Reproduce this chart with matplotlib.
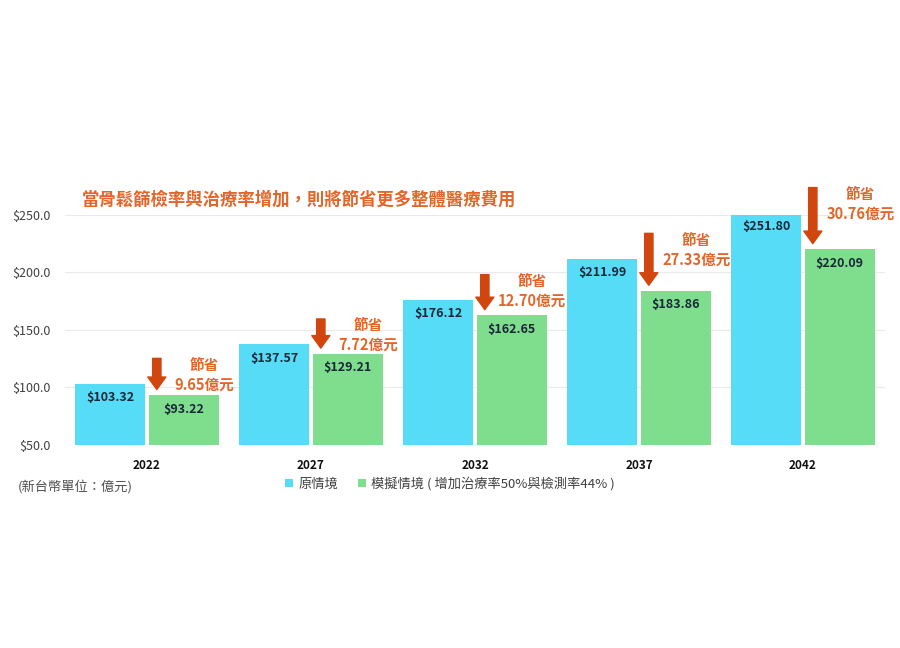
import matplotlib
matplotlib.use("Agg")
import matplotlib.pyplot as plt
import numpy as np

plt.rcParams['font.family'] = ['Noto Sans CJK TC', 'DejaVu Sans']

# data
years = ['2022', '2027', '2032', '2037', '2042']
original = [103.32, 137.57, 176.12, 211.99, 251.80]
simulated = [93.22, 129.21, 162.65, 183.86, 220.09]
savings = ['9.65', '7.72', '12.70', '27.33', '30.76']

title = '當骨鬆篩檢率與治療率增加，則將節省更多整體醫療費用'
unit_note = '(新台幣單位：億元)'
label_orig = '原情境'
label_sim = '模擬情境 ( 增加治療率50%與檢測率44% )'

BLUE = '#57DCF8'
GREEN = '#7EDE8E'
ORANGE = '#E2662A'
ARROW = '#D1460E'

fig = plt.figure(figsize=(9, 6.48), dpi=100)
ax = fig.add_axes([0.0722, 0.3133, 0.9111, 0.355])

x = np.arange(len(years))
w = 0.427
b1 = ax.bar(x - 0.224, original, w, color=BLUE, label=label_orig, zorder=2)
b2 = ax.bar(x + 0.224, simulated, w, color=GREEN, label=label_sim, zorder=2)

for i in range(len(years)):
    ax.text(x[i] - 0.224, original[i] - 12, '$%.2f' % original[i], ha='center', va='center',
            fontsize=9, fontweight='bold', color='#1B2838', zorder=3)
    ax.text(x[i] + 0.224, simulated[i] - 12, '$%.2f' % simulated[i], ha='center', va='center',
            fontsize=9, fontweight='bold', color='#1B2838', zorder=3)
    # down arrow showing the savings
    top = original[i] + 22
    ax.annotate('', xy=(x[i] + 0.06, simulated[i] + 5), xytext=(x[i] + 0.06, top),
                arrowprops=dict(facecolor=ARROW, edgecolor=ARROW, width=6, headwidth=13,
                                headlength=9),
                annotation_clip=False, zorder=4)
    ax.text(x[i] + 0.35, top - 14, '節省\n' + savings[i] + '億元', ha='center', va='center',
            fontsize=10.5, fontweight='bold', color=ORANGE, linespacing=1.3,
            clip_on=False, zorder=4)

ax.set_xlim(-0.5, len(years) - 0.5)
ax.set_ylim(50, 250)
ax.set_yticks([50, 100, 150, 200, 250])
ax.set_yticklabels(['$%.1f' % v for v in [50, 100, 150, 200, 250]], fontsize=9, color='#404040')
ax.set_xticks(x)
ax.set_xticklabels(years, fontsize=8.5, fontweight='bold', color='#111111')
ax.tick_params(length=0)
ax.tick_params(axis='x', pad=10)
ax.tick_params(axis='y', pad=10)
ax.grid(axis='y', color='#EAEAEA', linewidth=0.8, zorder=0)
for s in ax.spines.values():
    s.set_visible(False)

fig.text(82 / 900, 1 - 200 / 648, title, fontsize=12.5, fontweight='bold', color=ORANGE,
         ha='left', va='center')
fig.text(18 / 900, 1 - 487 / 648, unit_note, fontsize=9.5, color='#505050', ha='left', va='center')

fig.legend(handles=[b1, b2], loc='center', bbox_to_anchor=(450 / 900, 1 - 484 / 648), ncol=2,
           frameon=False, fontsize=9.5, handlelength=0.6, handleheight=0.6, handletextpad=0.4,
           columnspacing=1.5, labelcolor='#404040')

fig.savefig('out.png', dpi=100, facecolor='white')
